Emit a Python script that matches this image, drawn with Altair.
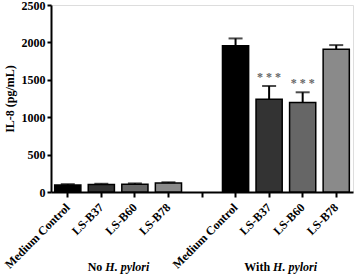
import altair as alt
import pandas as pd

# ---- data ----
keys = ["n_mc", "n_b37", "n_b60", "n_b78", "gap", "w_mc", "w_b37", "w_b60", "w_b78"]
tick_labels = ["Medium Control", "LS-B37", "LS-B60", "LS-B78", "",
               "Medium Control", "LS-B37", "LS-B60", "LS-B78"]
bar_keys = ["n_mc", "n_b37", "n_b60", "n_b78", "w_mc", "w_b37", "w_b60", "w_b78"]
means = [95, 100, 105, 120, 1955, 1240, 1195, 1910]
errors = [10, 10, 10, 10, 98, 177, 138, 54]
fills = ["#000000", "#333333", "#666666", "#8a8a8a",
         "#000000", "#333333", "#666666", "#8a8a8a"]
stars = ["", "", "", "", "", "* * *", "* * *", ""]
group_anchor = ["n_b37", "w_b37"]
group_prefix = ["No", "With"]
group_italic = ["H. pylori", "H. pylori"]
y_ticks = [0, 500, 1000, 1500, 2000, 2500]

df = pd.DataFrame({"key": bar_keys, "mean": means, "err": errors, "stars": stars})
df["upper"] = df["mean"] + df["err"]
gdf = pd.DataFrame({"key": group_anchor, "prefix": group_prefix, "ital": group_italic,
                    "zero": [0, 0]})

# label expression mapping keys -> tick labels
expr = "''"
for k, lab in reversed(list(zip(keys, tick_labels))):
    expr = f"datum.value == '{k}' ? '{lab}' : ({expr})"

FONT = "Liberation Serif"

x_axis = alt.Axis(
    title=None, labelAngle=-45, labelExpr=expr, labelFont=FONT,
    labelFontWeight="bold", labelFontSize=12, labelColor="black",
    labelAlign="right", labelBaseline="middle",
    tickSize=5, tickWidth=2, tickColor="black", domainWidth=2,
    domainColor="black", labelPadding=8,
)
x_scale = alt.Scale(domain=keys, paddingInner=0.22, paddingOuter=0.11)
y_scale = alt.Scale(domain=[0, 2500], nice=False)
y_axis = alt.Axis(
    title="IL-8 (pg/mL)", values=y_ticks, tickCount=6, format="d", labelFont=FONT,
    labelFontWeight="bold", labelFontSize=12, labelColor="black", titleFont=FONT,
    titleFontWeight="bold", titleFontSize=12, titleColor="black", tickSize=4,
    tickWidth=2, tickColor="black", domainWidth=2, domainColor="black", grid=False,
    labelPadding=2, titlePadding=5, labelOverlap=False,
)


def X():
    return alt.X("key:N", scale=x_scale, axis=x_axis)


def Y(field):
    return alt.Y(field, scale=y_scale, axis=y_axis)


base = alt.Chart(df)

bars = base.mark_bar(stroke="black", strokeWidth=1.5).encode(
    x=X(),
    y=Y("mean:Q"),
    color=alt.Color("key:N", scale=alt.Scale(domain=bar_keys, range=fills), legend=None),
)
rules = base.mark_rule(color="black", strokeWidth=2).encode(
    x=X(), y=Y("mean:Q"), y2="upper:Q"
)
caps = base.mark_tick(color="black", thickness=2, size=14).encode(
    x=X(), y=Y("upper:Q")
)
star_txt = base.mark_text(
    baseline="bottom", dy=-2, font=FONT, fontSize=12, fontWeight="bold", color="#666666"
).encode(x=X(), y=Y("upper:Q"), text="stars:N")

g_prefix = alt.Chart(gdf).mark_text(
    align="right", baseline="alphabetic", dx=1, dy=79, font=FONT, fontSize=12,
    fontWeight="bold", color="black"
).encode(x=X(), y=Y("zero:Q"), text="prefix:N")
g_ital = alt.Chart(gdf).mark_text(
    align="left", baseline="alphabetic", dx=4, dy=79, font=FONT, fontSize=12,
    fontWeight="bold", fontStyle="italic", color="black"
).encode(x=X(), y=Y("zero:Q"), text="ital:N")

chart = alt.layer(bars, rules, caps, star_txt, g_prefix, g_ital).properties(
    width=302, height=187,
    autosize=alt.AutoSizeParams(type="none"),
    padding={"left": 51, "top": 5, "right": 1, "bottom": 84},
).configure_view(stroke=None).configure(background="white")

chart.save("out.html", embed_options={"renderer": "svg", "actions": False})
